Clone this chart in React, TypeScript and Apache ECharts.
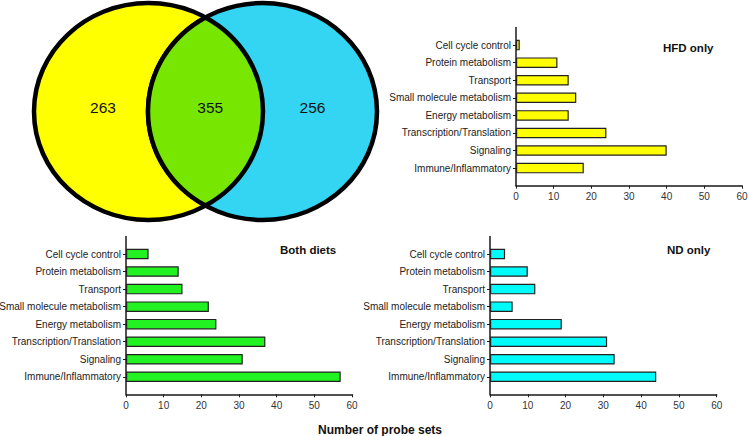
import React, { useEffect, useRef } from "react";
import * as echarts from "echarts";

// ---- data ----
const categories = [
  "Cell cycle control",
  "Protein metabolism",
  "Transport",
  "Small molecule metabolism",
  "Energy metabolism",
  "Transcription/Translation",
  "Signaling",
  "Immune/Inflammatory",
];
const hfdOnly = [1, 11, 14, 16, 14, 24, 40, 18];
const bothDiets = [6, 14, 15, 22, 24, 37, 31, 57];
const ndOnly = [4, 10, 12, 6, 19, 31, 33, 44];
const xMin = 0;
const xMax = 60;
const xInterval = 10;
const vennCounts = [263, 355, 256];
const panelTitles = ["HFD only", "Both diets", "ND only"];
const xAxisTitle = "Number of probe sets";

const FONT = "'Liberation Sans', Arial, Helvetica, sans-serif";

// Venn geometry
const V = { cx1: 148.5, cx2: 262.5, cy: 111.5, rx: 114.5, ry: 108.5 };
const xi = (V.cx1 + V.cx2) / 2;
const dyi = V.ry * Math.sqrt(1 - Math.pow((xi - V.cx1) / V.rx, 2));
const lensPath =
  `M ${xi} ${V.cy - dyi} ` +
  `A ${V.rx} ${V.ry} 0 0 0 ${xi} ${V.cy + dyi} ` +
  `A ${V.rx} ${V.ry} 0 0 0 ${xi} ${V.cy - dyi} Z`;

let registered = false;
function ensureShape() {
  if (registered) return;
  echarts.graphic.registerShape("vennLens", echarts.graphic.extendPath(lensPath, {}));
  registered = true;
}

const yData = ["", ...categories.slice().reverse(), ""];
const toSeries = (vals: number[]) => ["-", ...vals.slice().reverse(), "-"];

const panels = [
  { values: hfdOnly, color: "#FFFF00", grid: { left: 516, top: 27.5, right: 7, bottom: 250.3 } },
  { values: bothDiets, color: "#22F222", grid: { left: 126, top: 236.5, right: 397, bottom: 41.7 } },
  { values: ndOnly, color: "#00FBFB", grid: { left: 490, top: 236.5, right: 32.3, bottom: 41.7 } },
];

export default function App() {
  const ref = useRef<HTMLDivElement>(null);
  useEffect(() => {
    document.body.style.margin = "0";
    ensureShape();
    const chart = echarts.init(ref.current!, null, { renderer: "svg" });
    const axisColor = "#1a1a1a";
    const option: any = {
      animation: false,
      backgroundColor: "#ffffff",
      textStyle: { fontFamily: FONT },
      grid: panels.map((p) => ({
        ...p.grid,
        containLabel: false,
        outerBoundsMode: "none",
      })),
      xAxis: panels.map((p, i) => ({
        type: "value",
        gridIndex: i,
        min: xMin,
        max: xMax,
        interval: xInterval,
        axisLine: { show: true, lineStyle: { color: axisColor, width: 1.5 } },
        axisTick: { show: true, length: 3, lineStyle: { color: axisColor, width: 1 } },
        splitLine: { show: false },
        axisLabel: { color: "#333", fontSize: 10, margin: 6, fontFamily: FONT },
      })),
      yAxis: panels.map((p, i) => ({
        type: "category",
        gridIndex: i,
        data: yData,
        boundaryGap: false,
        axisLine: { show: true, lineStyle: { color: axisColor, width: 1.5 } },
        axisTick: {
          show: true,
          length: 3,
          interval: (idx: number) => idx > 0 && idx < yData.length - 1,
          lineStyle: { color: axisColor, width: 1 },
        },
        splitLine: { show: false },
        axisLabel: { color: "#222", fontSize: 10, margin: 5, interval: 0, fontFamily: FONT },
      })),
      series: panels.map((p, i) => ({
        type: "bar",
        xAxisIndex: i,
        yAxisIndex: i,
        data: toSeries(p.values),
        barWidth: 10.5,
        itemStyle: { color: p.color, borderColor: "#222", borderWidth: 1.2 },
        silent: true,
      })),
      graphic: [
        {
          type: "ellipse",
          shape: { cx: V.cx1, cy: V.cy, rx: V.rx, ry: V.ry },
          style: { fill: "#FFFF00", stroke: "#000", lineWidth: 4.5 },
          z: 1,
        },
        {
          type: "ellipse",
          shape: { cx: V.cx2, cy: V.cy, rx: V.rx, ry: V.ry },
          style: { fill: "#33D5F2", stroke: "#000", lineWidth: 4.5 },
          z: 2,
        },
        {
          type: "vennLens",
          x: 0,
          y: 0,
          style: { fill: "#77E600", stroke: "#000", lineWidth: 4.5 },
          z: 3,
        },
        {
          type: "text",
          x: 103,
          y: 107.5,
          z: 4,
          style: { text: String(vennCounts[0]), fontSize: 15.5, fill: "#111", align: "center", verticalAlign: "middle", fontFamily: FONT },
        },
        {
          type: "text",
          x: 210.3,
          y: 107.5,
          z: 4,
          style: { text: String(vennCounts[1]), fontSize: 15.5, fill: "#111", align: "center", verticalAlign: "middle", fontFamily: FONT },
        },
        {
          type: "text",
          x: 312.5,
          y: 107.5,
          z: 4,
          style: { text: String(vennCounts[2]), fontSize: 15.5, fill: "#111", align: "center", verticalAlign: "middle", fontFamily: FONT },
        },
        {
          type: "text",
          x: 663,
          y: 47.5,
          style: { text: panelTitles[0], fontSize: 11.5, fontWeight: "bold", fill: "#111", align: "left", verticalAlign: "middle", fontFamily: FONT },
        },
        {
          type: "text",
          x: 280,
          y: 250,
          style: { text: panelTitles[1], fontSize: 11.5, fontWeight: "bold", fill: "#111", align: "left", verticalAlign: "middle", fontFamily: FONT },
        },
        {
          type: "text",
          x: 667,
          y: 250,
          style: { text: panelTitles[2], fontSize: 11.5, fontWeight: "bold", fill: "#111", align: "left", verticalAlign: "middle", fontFamily: FONT },
        },
        {
          type: "text",
          x: 380,
          y: 429.5,
          style: { text: xAxisTitle, fontSize: 12, fontWeight: "bold", fill: "#111", align: "center", verticalAlign: "middle", fontFamily: FONT },
        },
      ],
    };
    chart.setOption(option);
    return () => chart.dispose();
  }, []);
  return <div ref={ref} style={{ width: 749, height: 436 }} />;
}
